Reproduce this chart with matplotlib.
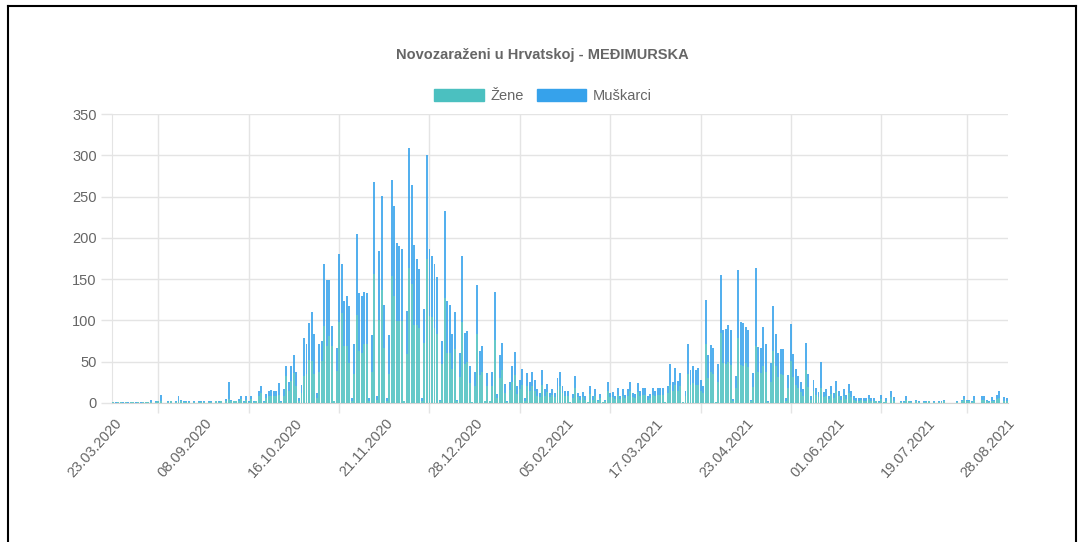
import numpy as np
import matplotlib.pyplot as plt
import matplotlib.transforms as mtransforms
from matplotlib.patches import Patch
from matplotlib.lines import Line2D

plt.rcParams['font.family'] = ['Liberation Sans', 'DejaVu Sans']

naslov = 'Novozaraženi u Hrvatskoj - MEĐIMURSKA'
serije = ['Žene', 'Muškarci']
oznake = ['23.03.2020', '08.09.2020', '16.10.2020', '21.11.2020', '28.12.2020',
          '05.02.2021', '17.03.2021', '23.04.2021', '01.06.2021', '19.07.2021',
          '28.08.2021']

# ukupno novozarazenih po danu (zene + muskarci)
ukupno = [
    1, 1, 1, 1, 1, 1, 1, 1, 1, 1, 1, 1, 1, 1, 1,
    4, 0, 2, 3, 10, 0, 0, 2, 3, 0, 2, 8, 4, 2, 2, 2, 0, 2, 0, 2, 2, 2, 0, 2, 2, 0, 3, 2, 3, 0, 5, 25,
    4, 3, 3, 5, 8, 2, 8, 2, 8, 2, 3, 15, 20, 2, 11, 15,
    16, 14, 14, 24, 2, 17, 45, 26, 45, 58,
    37, 6, 22, 79, 71, 97, 110, 83, 12, 71,
    75, 168, 149, 149, 93, 3, 67, 180, 168, 123,
    129, 117, 6, 72, 205, 133, 129, 135, 133, 6,
    82, 268, 8, 184, 251, 119, 6, 82, 270, 239,
    194, 190, 186, 3, 111, 309, 264, 191, 175, 162,
    6, 114, 300, 186, 178, 168, 153, 4, 75, 232,
    124, 119, 84, 110, 4, 61,
    178, 85, 87, 45, 1, 38, 143, 63, 69, 3,
    36, 3, 38, 134, 11, 58, 73, 23, 2, 26,
    45, 62, 20, 28, 41, 6, 36, 26, 37, 28,
    17, 12, 40, 17, 23, 12, 17, 12, 30, 38,
    21, 14, 14, 1, 11, 33, 12, 8, 13, 8,
    1, 20, 8, 17, 4, 11, 1, 4, 25, 12,
    13, 9, 18, 9, 17, 10, 17, 25, 12, 11,
    24, 15, 18, 18, 8, 11, 18, 14, 18, 18,
    18, 1, 21, 47, 26, 42, 27, 36, 1, 14,
    72, 40, 45, 40, 42, 28, 21, 125, 58, 70,
    67, 1, 47, 155, 89, 90, 94, 89, 5, 33,
    161, 98, 97, 92, 89, 4, 36, 164, 68, 67,
    92, 71, 2, 49, 117, 83, 61, 65, 65, 6,
    34, 96, 59, 41, 33, 25, 17, 73, 35, 8,
    28, 18, 13, 50, 13, 17, 9, 21, 12, 27,
    15,
    8, 17, 10, 23, 14, 8, 6, 6, 6, 6,
    6, 10, 6, 6, 3, 3, 10, 1, 6, 0,
    14, 7, 0, 0, 2, 2, 8, 3, 3, 0,
    4, 2, 0, 2, 2, 3, 0, 2, 0, 2,
    2, 4, 0, 0, 0, 0, 2, 0, 4, 9,
    4, 4, 2, 8, 0, 0, 8, 8, 4, 2,
    7, 4, 10, 14, 0, 7, 6,
]

zene = [
    1, 0, 1, 1, 0, 1, 0, 1, 1, 0, 1, 0, 1, 1, 1,
    1, 0, 1, 2, 2, 0, 0, 1, 2, 0, 1, 3, 2, 1, 1, 1, 0, 1, 0, 1, 1, 1, 0, 1, 1, 0, 2, 1, 2, 0, 3, 5,
    3, 2, 2, 3, 5, 1, 4, 1, 5, 1, 2, 9, 12, 1, 6, 9,
    9, 8, 8, 10, 1, 9, 33, 14, 27, 36,
    20, 3, 12, 33, 35, 52, 51, 35, 6, 38,
    51, 93, 69, 81, 69, 2, 39, 98, 109, 69,
    69, 49, 3, 35, 107, 63, 61, 71, 71, 3,
    37, 156, 4, 100, 137, 67, 3, 35, 154, 129,
    99, 99, 99, 2, 59, 164, 144, 95, 95, 91,
    3, 73, 174, 105, 104, 91, 83, 2, 47, 127,
    61, 60, 41, 65, 2, 31,
    98, 47, 50, 24, 1, 20, 83, 34, 37, 2,
    20, 2, 20, 76, 6, 30, 40, 12, 1, 16,
    25, 34, 11, 17, 22, 3, 20, 14, 20, 15,
    9, 7, 22, 9, 13, 7, 10, 7, 16, 21,
    12, 8, 8, 1, 6, 18, 7, 4, 7, 4,
    1, 11, 4, 9, 2, 6, 1, 2, 14, 7,
    7, 5, 10, 5, 9, 6, 9, 14, 7, 6,
    13, 8, 10, 10, 4, 6, 10, 8, 10, 10,
    10, 1, 12, 22, 14, 22, 15, 20, 1, 8,
    35, 22, 24, 22, 22, 15, 12, 71, 30, 37,
    35, 1, 25, 85, 48, 47, 50, 46, 3, 18,
    79, 46, 45, 48, 44, 2, 19, 69, 38, 36,
    45, 38, 1, 25, 63, 45, 32, 35, 34, 3,
    18, 51, 32, 22, 18, 13, 9, 40, 19, 4,
    15, 10, 7, 18, 7, 9, 5, 11, 6, 15,
    8,
    4, 9, 5, 12, 7, 4, 3, 3, 4, 3,
    3, 5, 3, 3, 2, 1, 5, 1, 3, 0,
    7, 3, 0, 0, 1, 1, 4, 2, 1, 0,
    2, 1, 0, 1, 1, 2, 0, 1, 0, 1,
    1, 2, 0, 0, 0, 0, 1, 0, 2, 5,
    2, 2, 1, 4, 0, 0, 4, 4, 2, 1,
    3, 2, 5, 6, 0, 3, 3,
]

ukupno = np.array(ukupno)
zene = np.array(zene)
muskarci = ukupno - zene
x = np.arange(len(ukupno))

boja_zene = '#4bc0c0'
boja_muskarci = '#36a2eb'
siva = '#666666'
mreza = '#e4e4e4'

W, H = 1083, 542
fig = plt.figure(figsize=(W / 100, H / 100), dpi=100)
ax = fig.add_axes([112 / W, 1 - 403 / H, 896 / W, 289 / H])

ax.bar(x, zene, width=0.78, color=boja_zene, alpha=0.85, linewidth=0, zorder=3)
ax.bar(x, muskarci, bottom=zene, width=0.78, color=boja_muskarci, alpha=0.85,
       linewidth=0, zorder=3)

ax.set_xlim(-0.5, len(x) - 0.5)
ax.set_ylim(0, 350)

# oznake datuma - svaka 36. kategorija + zadnja
korak = 36
pozicije = list(range(0, len(x), korak))[:len(oznake) - 1] + [len(x) - 1]
ax.set_xticks(pozicije)
ax.set_xticklabels([])
ax.tick_params(axis='x', which='major', length=0)
tr = mtransforms.blended_transform_factory(ax.transData, ax.transAxes)
tr = tr + mtransforms.ScaledTranslation(6 / 100, -18 / 100, fig.dpi_scale_trans)
for p, t in zip(pozicije, oznake):
    ax.text(p, 0, t, transform=tr, rotation=48, ha='right', va='center',
            rotation_mode='anchor', color=siva, fontsize=10.5, clip_on=False)

sredine = [(a + b) / 2 for a, b in zip(pozicije[:-1], pozicije[1:])]
ax.set_xticks(sredine, minor=True)
ax.tick_params(axis='x', which='minor', length=7, color=mreza, width=1)
ax.grid(axis='x', which='minor', color=mreza, linewidth=1, zorder=0)

ax.set_yticks(range(0, 351, 50))
ax.tick_params(axis='y', length=8, color=mreza, width=1, pad=3,
               labelcolor=siva, labelsize=10.5)
ax.grid(axis='y', color=mreza, linewidth=1, zorder=0)

for s in ['top', 'right']:
    ax.spines[s].set_visible(False)
ax.spines['left'].set_color(mreza)
ax.spines['bottom'].set_color('#d4d4d4')

fig.text(542 / W, 1 - 55 / H, naslov, ha='center', va='center',
         fontsize=10.5, fontweight='bold', color=siva)

rucke = [Patch(facecolor=boja_zene, edgecolor=boja_zene, label=serije[0]),
         Patch(facecolor=boja_muskarci, edgecolor=boja_muskarci, label=serije[1])]
leg = fig.legend(handles=rucke, loc='center', bbox_to_anchor=(543 / W, 1 - 96 / H),
                 ncol=2, frameon=False, fontsize=10.5, handlelength=3.4,
                 handleheight=0.95, handletextpad=0.45, columnspacing=0.9)
for t in leg.get_texts():
    t.set_color(siva)

# okvir slike
for xs, ys in [([8 / W, 1076 / W], [1 - 6 / H, 1 - 6 / H]),
               ([8 / W, 8 / W], [0, 1 - 6 / H]),
               ([1076 / W, 1076 / W], [0, 1 - 6 / H])]:
    fig.add_artist(Line2D(xs, ys, color='black', linewidth=1.5))

fig.savefig('out.png', dpi=100)
